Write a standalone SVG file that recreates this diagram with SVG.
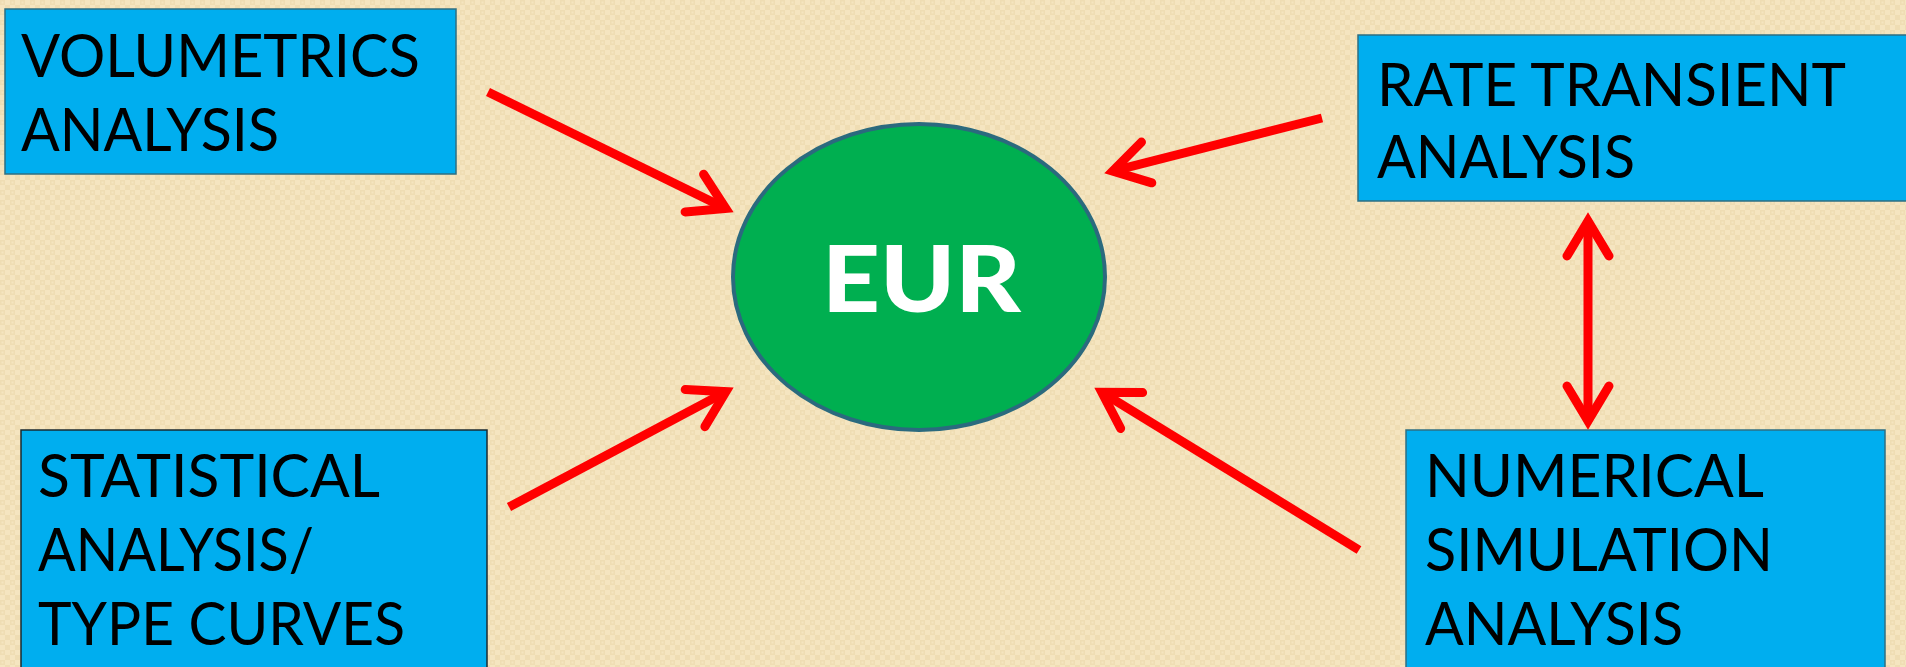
<svg xmlns="http://www.w3.org/2000/svg" width="1906" height="667" viewBox="0 0 1906 667">
<style>
.box{fill:#00AEEF;stroke:#2E6F82;stroke-width:1.5}
.lbl{font-family:Lato,"Open Sans","Liberation Sans",sans-serif;font-size:60px;fill:#000}
.eur{font-family:Lato,"Open Sans","Liberation Sans",sans-serif;font-size:91px;font-weight:900;fill:#fff}
.conn{stroke:#FF0000;stroke-width:9;fill:none}
</style>
<defs>
<pattern id="bg" width="10" height="10" patternUnits="userSpaceOnUse">
<rect width="10" height="10" fill="#F5E5C0"/>
<rect x="0" y="0" width="5" height="5" fill="#EFDDB3"/>
<rect x="5" y="5" width="5" height="5" fill="#EFDDB3"/>
<rect x="1.5" y="1.5" width="2" height="2" fill="#F5E5C0"/>
</pattern>
<marker id="ah" viewBox="-50 -30 60 60" markerWidth="60" markerHeight="60" refX="-12" refY="0" markerUnits="userSpaceOnUse" orient="auto-start-reverse" overflow="visible">
<path d="M-43,-21 L-8,0 L-43,21" fill="none" stroke="#FF0000" stroke-width="9" stroke-linejoin="miter" stroke-miterlimit="10" stroke-linecap="round"/>
</marker>
</defs>
<rect width="1906" height="667" fill="url(#bg)"/>

<g id="volumetrics">
<rect class="box" x="5" y="9" width="451" height="165"/>
<text class="lbl" x="21" y="77" textLength="399" lengthAdjust="spacingAndGlyphs">VOLUMETRICS</text>
<text class="lbl" x="21" y="151" textLength="258" lengthAdjust="spacingAndGlyphs">ANALYSIS</text>
</g>

<g id="rate-transient">
<rect class="box" x="1358" y="35" width="560" height="166"/>
<text class="lbl" x="1377" y="106" textLength="469" lengthAdjust="spacingAndGlyphs">RATE TRANSIENT</text>
<text class="lbl" x="1377" y="178" textLength="258" lengthAdjust="spacingAndGlyphs">ANALYSIS</text>
</g>

<g id="statistical">
<rect class="box" x="21" y="430" width="466" height="250" style="stroke:#1a2a30"/>
<text class="lbl" x="38" y="497" textLength="342" lengthAdjust="spacingAndGlyphs">STATISTICAL</text>
<text class="lbl" x="38" y="571" textLength="276" lengthAdjust="spacingAndGlyphs">ANALYSIS/</text>
<text class="lbl" x="38" y="645" textLength="367" lengthAdjust="spacingAndGlyphs">TYPE CURVES</text>
</g>

<g id="numerical">
<rect class="box" x="1406" y="430" width="479" height="250"/>
<text class="lbl" x="1425" y="497" textLength="339" lengthAdjust="spacingAndGlyphs">NUMERICAL</text>
<text class="lbl" x="1425" y="571" textLength="348" lengthAdjust="spacingAndGlyphs">SIMULATION</text>
<text class="lbl" x="1425" y="645" textLength="258" lengthAdjust="spacingAndGlyphs">ANALYSIS</text>
</g>

<g id="eur">
<ellipse cx="919" cy="277" rx="186" ry="153" fill="#00AF50" stroke="#2B6A7E" stroke-width="4"/>
<text class="eur" x="822" y="312" textLength="199" lengthAdjust="spacingAndGlyphs">EUR</text>
</g>

<g id="connectors">
<line class="conn" x1="488" y1="92" x2="722.2" y2="206.7" marker-end="url(#ah)"/>
<line class="conn" x1="509" y1="507" x2="722.4" y2="393.6" marker-end="url(#ah)"/>
<line class="conn" x1="1322" y1="118" x2="1116.6" y2="170.1" marker-end="url(#ah)"/>
<line class="conn" x1="1359" y1="550" x2="1105.2" y2="394.3" marker-end="url(#ah)"/>
<line class="conn" x1="1588" y1="225" x2="1588" y2="417" marker-start="url(#ah)" marker-end="url(#ah)"/>
</g>
</svg>
